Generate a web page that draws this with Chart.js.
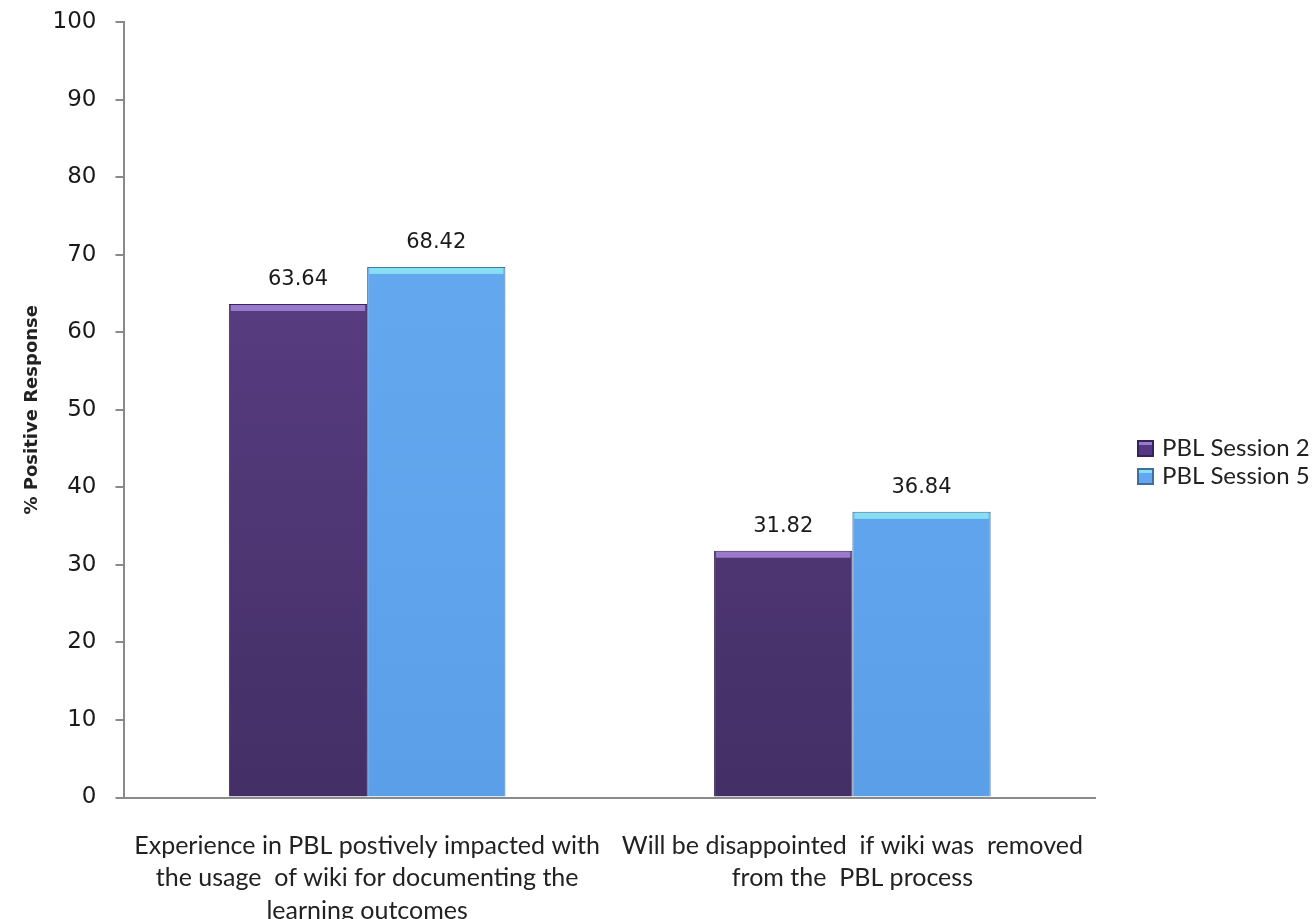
<!DOCTYPE html>
<html>
<head>
<meta charset="utf-8">
<script src="https://cdn.jsdelivr.net/npm/chart.js@4.4.1/dist/chart.umd.min.js"></script>
<style>
  html, body { margin: 0; padding: 0; background: #fff; overflow: hidden; }
  #wrap { width: 1313px; height: 951px; position: relative; }
</style>
</head>
<body>
<div id="wrap"><canvas id="chart"></canvas></div>
<script>
const categories = [
  ['Experience in PBL postively impacted with', 'the usage  of wiki for documenting the', 'learning outcomes'],
  ['Will be disappointed  if wiki was  removed', 'from the  PBL process']
];
const session2 = [63.64, 31.82];
const session5 = [68.42, 36.84];
const seriesNames = ['PBL Session 2', 'PBL Session 5'];
const yTicks = [0, 10, 20, 30, 40, 50, 60, 70, 80, 90, 100];

const fills = [
  { body: '#553883', hi: '#62438f', lo: '#432f65', top: '#9a7acb', edge: '#35245a' },
  { body: '#62a7f0', hi: '#68adf3', lo: '#5a9fe8', top: '#86e0f2', edge: '#3f6f98' }
];

function barGradient(i) {
  return (c) => {
    const area = c.chart.chartArea;
    if (!area) return fills[i].body;
    const g = c.chart.ctx.createLinearGradient(0, area.top, 0, area.bottom);
    g.addColorStop(0, fills[i].hi);
    g.addColorStop(1, fills[i].lo);
    return g;
  };
}

// bar bevel + value labels
const barDecor = {
  id: 'barDecor',
  afterDatasetsDraw(chart) {
    const ctx = chart.ctx;
    chart.data.datasets.forEach((ds, i) => {
      const meta = chart.getDatasetMeta(i);
      meta.data.forEach((bar, j) => {
        const w = bar.width;
        const left = bar.x - w / 2;
        ctx.save();
        ctx.fillStyle = fills[i].top;
        ctx.fillRect(left + 2, bar.y + 1, w - 4, 6);
        ctx.restore();
        ctx.save();
        ctx.font = '21px "DejaVu Sans"';
        ctx.fillStyle = '#1a1a1a';
        ctx.textAlign = 'center';
        ctx.textBaseline = 'alphabetic';
        ctx.fillText(ds.data[j].toFixed(2), bar.x, bar.y - 19);
        ctx.restore();
      });
    });
  }
};

// legend on the right
const sideLegend = {
  id: 'sideLegend',
  afterDraw(chart) {
    const ctx = chart.ctx;
    ctx.save();
    ctx.font = '24px Lato';
    ctx.textBaseline = 'middle';
    seriesNames.forEach((name, i) => {
      const y = 448 + i * 28;
      ctx.fillStyle = fills[i].edge;
      ctx.fillRect(1137, y - 8, 17, 17);
      ctx.fillStyle = fills[i].body;
      ctx.fillRect(1139, y - 6, 13, 13);
      ctx.fillStyle = fills[i].top;
      ctx.fillRect(1139, y - 6, 13, 3);
      ctx.fillStyle = '#222';
      ctx.fillText(name, 1162, y);
    });
    ctx.restore();
  }
};

new Chart(document.getElementById('chart'), {
  type: 'bar',
  data: {
    labels: categories,
    datasets: [
      { label: seriesNames[0], data: session2, backgroundColor: barGradient(0), borderColor: fills[0].edge, borderWidth: 1 },
      { label: seriesNames[1], data: session5, backgroundColor: barGradient(1), borderColor: fills[1].edge, borderWidth: 1 }
    ]
  },
  plugins: [barDecor, sideLegend],
  options: {
    responsive: true,
    maintainAspectRatio: false,
    animation: false,
    layout: { padding: { top: 22, right: 218, left: 18, bottom: 0 } },
    datasets: { bar: { categoryPercentage: 0.57, barPercentage: 1.0 } },
    plugins: {
      legend: { display: false },
      tooltip: { enabled: false }
    },
    scales: {
      x: {
        grid: { display: false },
        border: { color: '#8a8a8a', width: 2 },
        ticks: { color: '#222', font: { family: 'Lato', size: 25, lineHeight: 1.3 }, padding: 24, maxRotation: 0 }
      },
      y: {
        min: 0,
        max: 100,
        afterBuildTicks(axis) { axis.ticks = yTicks.map(v => ({ value: v })); },
        afterFit(axis) { axis.paddingTop = 0; axis.paddingBottom = 0; },
        grid: { drawOnChartArea: false, drawTicks: true, tickLength: 9, color: '#8a8a8a', lineWidth: 2 },
        border: { color: '#8a8a8a', width: 2 },
        ticks: { color: '#1a1a1a', font: { family: 'DejaVu Sans', size: 23 }, padding: 19 },
        title: {
          display: true,
          text: '% Positive Response',
          color: '#222',
          font: { family: 'DejaVu Sans', size: 18, weight: 'bold' },
          padding: { top: 4, bottom: -10 }
        }
      }
    }
  }
});
</script>
</body>
</html>
